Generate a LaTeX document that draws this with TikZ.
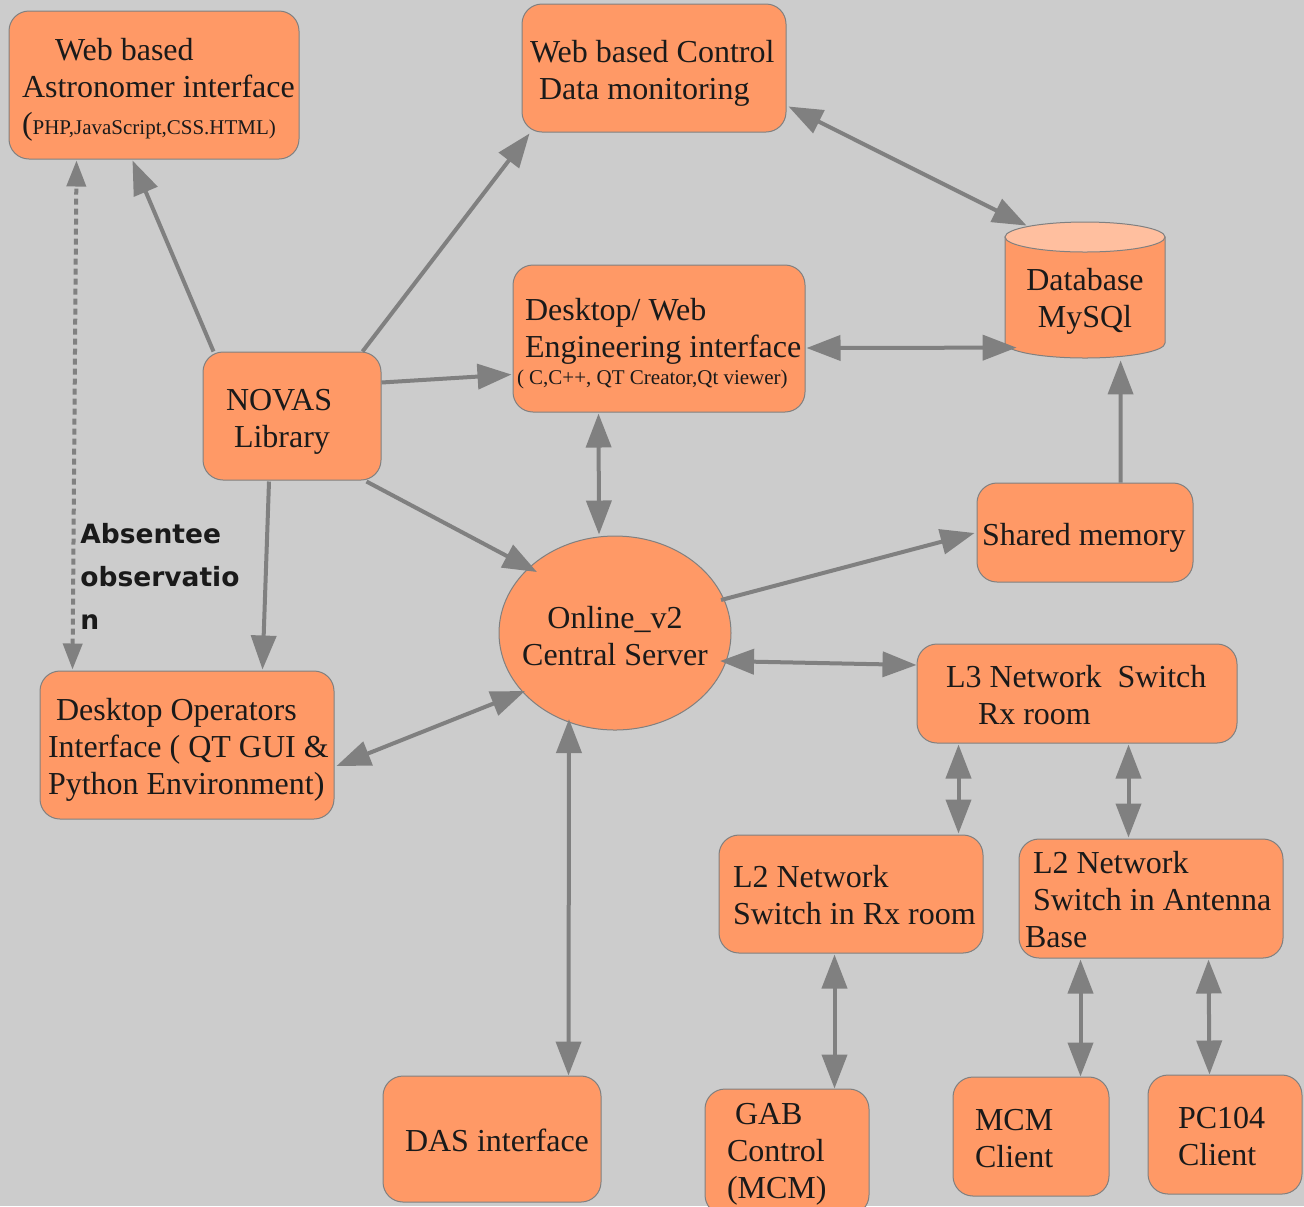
\documentclass[tikz,border=0pt]{standalone}
\usepackage{fontspec}
\setmainfont{Liberation Serif}
\newfontfamily\absfont{DejaVu Sans}
\usetikzlibrary{arrows.meta,calc,shapes.geometric}
\definecolor{bgcol}{HTML}{CCCCCC}
\definecolor{boxfill}{HTML}{FF9966}
\definecolor{boxline}{HTML}{808080}
\definecolor{topfill}{HTML}{FFBF9F}
\definecolor{arrcol}{HTML}{808080}
\definecolor{txt}{HTML}{1A1A1A}
\newcommand\lineat[2]{\hspace*{#1}\mbox{#2}}
\newcommand\smallsz{\fontsize{10.5}{12}\selectfont}
\newcommand\mystrutht{16pt}
\begin{document}
\begin{tikzpicture}[x=0.5pt,y=-0.5pt,
  >={Triangle[length=17pt,width=12.5pt]},
  boxstrut/.code={\def\mystrutht{#1}},
  box/.style={draw=boxline, line width=0.5pt, fill=boxfill, rounded corners=10pt,
    text=txt, font=\fontsize{16}{18.5}\selectfont, align=flush left,
    inner xsep=2pt, inner ysep=0pt, boxstrut=16pt,
    execute at begin node={\rule{0pt}{\mystrutht}}},
  lowstrut/.style={boxstrut=12.5pt},
  conn/.style={draw=arrcol, line width=2pt, ->},
  both/.style={draw=arrcol, line width=2pt, <->},
  dashedboth/.style={draw=arrcol, line width=2pt, dash pattern=on 3pt off 2pt,
    {Triangle[length=13pt,width=9.5pt]}-{Triangle[length=13pt,width=9.5pt]}},
]
\useasboundingbox (0,0) rectangle (1304,1206);
\clip (0,0) rectangle (1304,1206);
\fill[bgcol] (0,0) rectangle (1304,1206);

% boxes
\node[box, minimum width=145pt, minimum height=74pt, text width=141pt] (astro) at (154,85)
  {\lineat{21pt}{Web based}\\ \lineat{4.5pt}{Astronomer interface}\\ \lineat{4.5pt}{(\smallsz PHP,JavaScript,CSS.HTML)}};
\node[box, minimum width=132pt, minimum height=64pt, text width=128pt] (webc) at (654,68)
  {\lineat{2pt}{Web based Control}\\ \lineat{6.5pt}{Data monitoring}};
\node[box, minimum width=146pt, minimum height=73.5pt, text width=142pt] (deskweb) at (659,338.5)
  {\lineat{4pt}{Desktop/ Web}\\ \lineat{4pt}{Engineering interface}\\[-5pt] \lineat{0pt}{\smallsz ( C,C++, QT Creator,Qt viewer)}};
\node[box, minimum width=89pt, minimum height=64pt, text width=85pt] (nov) at (292,416)
  {\lineat{9.5pt}{NOVAS}\\ \lineat{13.5pt}{Library}};
\node[box, minimum width=108pt, minimum height=49.5pt, text width=104pt] (shm) at (1085,532.5)
  {\lineat{0.5pt}{Shared memory}};
\node[ellipse, draw=boxline, line width=0.5pt, fill=boxfill, minimum width=116pt, minimum height=97pt,
  inner sep=0pt,
  label={[align=center, text=txt, font=\fontsize{16}{18.5}\selectfont, yshift=-1.5pt]center:Online\_v2\\Central Server}]
  (onl) at (615,633) {};
\node[box, minimum width=147pt, minimum height=74pt, text width=143pt] (dop) at (187,745)
  {\lineat{6pt}{Desktop Operators}\\ \lineat{2pt}{Interface ( QT GUI \&}\\ \lineat{2pt}{Python Environment)}};
\node[box, lowstrut, minimum width=160pt, minimum height=49.5pt, text width=156pt] (l3) at (1077,693.5)
  {\lineat{12.5pt}{L3 Network\ \ Switch}\\ \lineat{28.5pt}{Rx room}};
\node[box, lowstrut, minimum width=132pt, minimum height=59pt, text width=128pt] (l2rx) at (851,894)
  {\lineat{5pt}{L2 Network}\\ \lineat{5pt}{Switch in Rx room}};
\node[box, lowstrut, minimum width=132pt, minimum height=59.5pt, text width=128pt] (l2ant) at (1151,898.5)
  {\lineat{5pt}{L2 Network}\\ \lineat{5pt}{Switch in Antenna}\\ \lineat{1pt}{Base}};
\node[box, lowstrut, minimum width=109pt, minimum height=63pt, text width=105pt] (das) at (492,1139)
  {\lineat{9pt}{DAS interface}};
\node[box, lowstrut, minimum width=82pt, minimum height=63pt, text width=78pt] (gab) at (787,1152)
  {\lineat{13pt}{GAB}\\ \lineat{9pt}{Control}\\ \lineat{9pt}{(MCM)}};
\node[box, lowstrut, minimum width=78pt, minimum height=59.5pt, text width=74pt] (mcm) at (1031,1136.5)
  {\lineat{9pt}{MCM}\\ \lineat{9pt}{Client}};
\node[box, lowstrut, minimum width=77pt, minimum height=59.5pt, text width=73pt] (pc) at (1225,1134.5)
  {\lineat{13pt}{PC104}\\ \lineat{13pt}{Client}};

% database cylinder
\filldraw[fill=boxfill, draw=boxline, line width=0.5pt] (1005,237) -- (1005,343)
  arc[start angle=180, end angle=0, x radius=80, y radius=15] -- (1165,237) -- cycle;
\filldraw[fill=topfill, draw=boxline, line width=0.5pt] (1085,237) ellipse [x radius=80, y radius=15];
\node[font=\fontsize{16}{18.5}\selectfont, align=center, minimum width=80pt, minimum height=60pt,
  inner sep=0pt, text=txt] (db) at (1085,301) {Database\\MySQl};

% label
\node[font=\absfont\bfseries\fontsize{13.25}{21.5}\selectfont, text=txt, align=left,
  anchor=north west, inner sep=0pt] (abs) at (80,523) {Absentee\\observatio\\n};

% connectors
\draw[conn] ($(nov.north west)+(11,0)$) -- ($(astro.south west)+(124,1)$);
\draw[dashedboth] ($(dop.north west)+(33,-1)$) -- ($(astro.south west)+(68,1)$);
\draw[conn] ($(nov.north east)+(-19,0)$) -- ($(webc.south west)+(8,1)$);
\draw[conn] ($(nov.north east)+(0,31)$) -- ($(deskweb.south west)+(-1,-38)$);
\draw[conn] ($(nov.south east)+(-15,1)$) -- ($(onl.center)+(-78,-61)$);
\draw[conn] ($(nov.south)+(-23,1)$) -- ($(dop.north west)+(223,-1)$);
\draw[both] ($(webc.south east)+(2,-26)$) -- ($(db.north west)+(22,-15)$);
\draw[both] ($(deskweb.east)+(1,9.5)$) -- ($(db.north west)+(12,107)$);
\draw[both] ($(deskweb.south west)+(86,1)$) -- ($(onl.north)+(-16,-1)$);
\draw[conn] ($(shm.north west)+(144,0)$) -- ($(db.south west)+(116,-1)$);
\draw[conn] ($(onl.center)+(106,-33)$) -- ($(shm.west)+(-2,0.5)$);
\draw[both] ($(onl.center)+(105,28)$) -- ($(l3.west)+(0,-28.5)$);
\draw[both] ($(onl.center)+(-90,58)$) -- ($(dop.east)+(2,21)$);
\draw[both] ($(onl.center)+(-46,86)$) -- ($(das.north west)+(186,0)$);
\draw[both] ($(l3.south west)+(42,1)$) -- ($(l2rx.north west)+(240,-1)$);
\draw[both] ($(l3.south west)+(212,1)$) -- ($(l2ant.north west)+(110,-1)$);
\draw[both] ($(l2rx.south west)+(116,1)$) -- ($(gab.north west)+(130,0)$);
\draw[both] ($(l2ant.south west)+(62,1)$) -- ($(mcm.north west)+(128,0)$);
\draw[both] ($(l2ant.south west)+(190,1)$) -- ($(pc.north west)+(62,0)$);
\end{tikzpicture}
\end{document}
